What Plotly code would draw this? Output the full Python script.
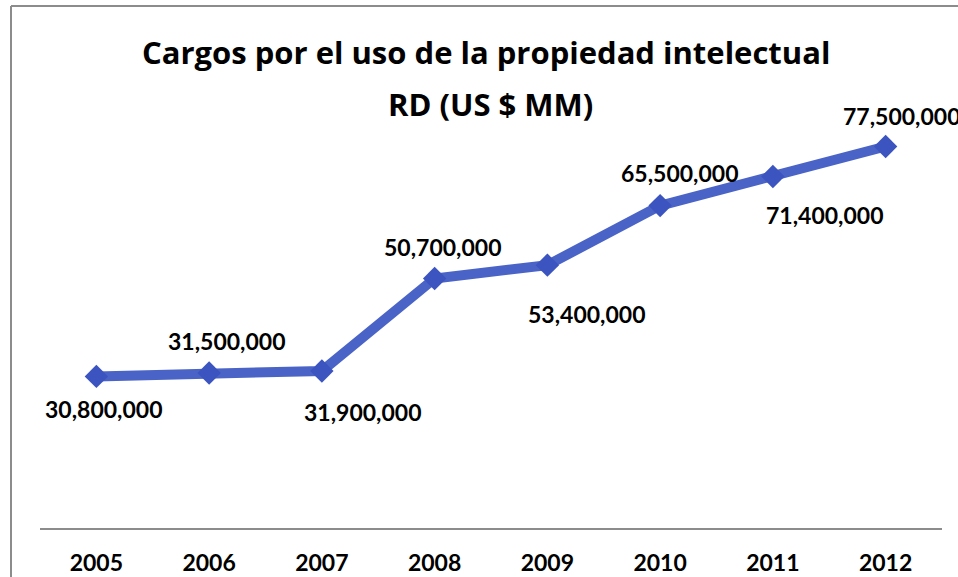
import plotly.graph_objects as go

years = ["2005", "2006", "2007", "2008", "2009", "2010", "2011", "2012"]
values = [30800000, 31500000, 31900000, 50700000, 53400000, 65500000, 71400000, 77500000]
labels = [f"{v:,}" for v in values]
title_lines = ["Cargos por el uso de la propiedad intelectual", "RD (US $ MM)"]

# label offsets in pixels (styling): (dx, dy) relative to the point, dy down positive
label_offsets = [(7, 33), (17, -32), (41, 41), (8, -31),
                 (39, 49), (19, -33), (52, 38), (16, -31)]

W, H = 958, 577
L, R, T, B = 40, 16, 85, 49

fig = go.Figure()
fig.add_trace(go.Scatter(
    x=years, y=values, mode="lines+markers",
    line=dict(color="#4A63C6", width=10),
    marker=dict(symbol="diamond", size=18, color="#3B54C0"),
    cliponaxis=False, hoverinfo="skip",
))

pw = W - L - R
ph = H - T - B


def py(ypx):
    return (H - B - ypx) / ph


def px(xpx):
    return (xpx - L) / pw


annotations = [
    dict(text=f"<b>{title_lines[0]}</b>", xref="paper", yref="paper",
         x=px(486), y=py(52), xanchor="center", yanchor="middle", showarrow=False,
         font=dict(family="Open Sans", size=31, color="#000000")),
    dict(text=f"<b>{title_lines[1]}</b>", xref="paper", yref="paper",
         x=px(490), y=py(104), xanchor="center", yanchor="middle", showarrow=False,
         font=dict(family="Open Sans", size=31, color="#000000")),
]
for i, (v, lab, (dx, dy)) in enumerate(zip(values, labels, label_offsets)):
    annotations.append(dict(
        text=f"<b>{lab}</b>", x=i, y=v, xref="x", yref="y",
        xanchor="center", yanchor="middle", showarrow=False,
        xshift=dx, yshift=-dy,
        font=dict(family="Lato", size=23, color="#000000"),
    ))

fig.update_layout(
    width=W, height=H,
    margin=dict(l=L, r=R, t=T, b=B, pad=0),
    paper_bgcolor="white", plot_bgcolor="white",
    showlegend=False,
    annotations=annotations,
    xaxis=dict(
        type="category", range=[-0.5, 7.5], automargin=False,
        showgrid=False, zeroline=False,
        showline=True, linecolor="#8C8C8C", linewidth=2,
        ticks="", ticklabelstandoff=13,
        tickfont=dict(family="Lato", size=23, color="#000000", weight="bold"),
    ),
    yaxis=dict(
        range=[0, 90000000], visible=False, showgrid=False, zeroline=False,
        automargin=False,
    ),
    shapes=[
        dict(type="line", xref="paper", yref="paper",
             x0=px(11), x1=px(11), y0=py(6), y1=py(577),
             line=dict(color="#8C8C8C", width=2)),
        dict(type="line", xref="paper", yref="paper",
             x0=px(11), x1=px(958), y0=py(6), y1=py(6),
             line=dict(color="#8C8C8C", width=2)),
    ],
)

fig.write_html(
    "out.html",
    config=dict(displayModeBar=False, staticPlot=True),
    post_script="document.body.style.margin='0';document.body.style.overflow='hidden';",
)
